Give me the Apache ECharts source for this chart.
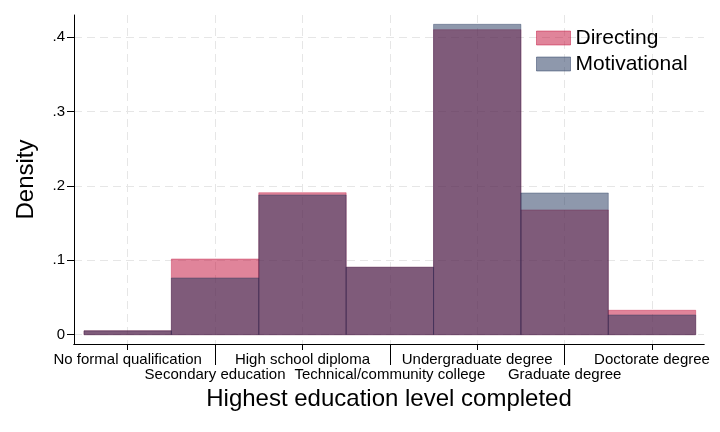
<!DOCTYPE html>
<html>
<head>
<meta charset="utf-8">
<script src="https://cdn.jsdelivr.net/npm/echarts@6/dist/echarts.min.js"></script>
<style>html,body{margin:0;padding:0;background:#fff;}#c{width:720px;height:432px;}</style>
</head>
<body>
<div id="c"></div>
<script>
const categories = ['No formal qualification', 'Secondary education', 'High school diploma', 'Technical/community college', 'Undergraduate degree', 'Graduate degree', 'Doctorate degree'];
const binCenters = [1, 2, 3, 4, 5, 6, 7];
const directing = [0.0052, 0.1017, 0.1908, 0.0906, 0.4098, 0.1676, 0.0328];
const motivational = [0.0052, 0.0762, 0.1877, 0.0906, 0.4170, 0.1904, 0.0265];
const yTicks = [0, 0.1, 0.2, 0.3, 0.4];
const xTicksRow1 = [1, 3, 5, 7];
const xTicksRow2 = [2, 4, 6];

const FONT = 'Liberation Sans, Arial, Helvetica, sans-serif';
const DIR_FILL = 'rgba(193,9,53,0.5)';
const DIR_STROKE = 'rgba(193,9,53,0.35)';
const MOT_FILL = 'rgba(29,49,89,0.5)';
const MOT_STROKE = 'rgba(29,49,89,0.35)';

function renderBin(fill, stroke) {
  return function (params, api) {
    const x = api.value(0), v = api.value(1);
    const p0 = api.coord([x - 0.5, v]);
    const p1 = api.coord([x + 0.5, 0]);
    return {
      type: 'rect',
      shape: { x: p0[0], y: p0[1], width: p1[0] - p0[0], height: p1[1] - p0[1] },
      style: { fill: fill, stroke: stroke, lineWidth: 1 }
    };
  };
}

function catLabel(v) {
  const i = Math.round(v) - 1;
  return categories[i] || '';
}

const gridLine = { show: true, lineStyle: { color: '#e6e6e6', width: 1, type: [8, 5] } };
const axisLineStyle = { show: true, onZero: false, lineStyle: { color: '#000', width: 1 } };
const xMin = 0.3856, xMax = 7.595;

const chart = echarts.init(document.getElementById('c'), null, { renderer: 'canvas' });
chart.setOption({
  animation: false,
  backgroundColor: '#fff',
  textStyle: { fontFamily: FONT },
  grid: { left: 74, right: 16, top: 15, bottom: 88, containLabel: false },
  legend: {
    data: [
      { name: 'Directing', itemStyle: { color: DIR_FILL, borderColor: 'rgba(193,9,53,0.45)', borderWidth: 1 } },
      { name: 'Motivational', itemStyle: { color: MOT_FILL, borderColor: 'rgba(29,49,89,0.45)', borderWidth: 1 } }
    ],
    orient: 'vertical',
    left: 536, top: 27.5, padding: 0,
    icon: 'rect', itemWidth: 34, itemHeight: 14, itemGap: 5, itemTextGap: 14,
    textStyle: { fontFamily: FONT, fontSize: 21, color: '#000' }
  },
  xAxis: [
    {
      type: 'value', position: 'bottom', min: xMin, max: xMax,
      axisLine: axisLineStyle,
      axisTick: { show: true, length: 6, customValues: xTicksRow1, lineStyle: { color: '#000' } },
      axisLabel: { customValues: xTicksRow1, formatter: catLabel, margin: 8, fontSize: 15, lineHeight: 15, color: '#000', fontFamily: FONT, showMinLabel: true, showMaxLabel: true },
      splitLine: gridLine,
      name: 'Highest education level completed', nameLocation: 'middle', nameGap: 43,
      nameTextStyle: { fontSize: 24, color: '#000', fontFamily: FONT }
    },
    {
      type: 'value', position: 'bottom', offset: 0, min: xMin, max: xMax,
      axisLine: axisLineStyle,
      axisTick: { show: true, length: 21, customValues: xTicksRow2, lineStyle: { color: '#000' } },
      axisLabel: { customValues: xTicksRow2, formatter: catLabel, margin: 23, fontSize: 15, lineHeight: 15, color: '#000', fontFamily: FONT },
      splitLine: gridLine
    }
  ],
  yAxis: {
    type: 'value', min: -0.0125, max: 0.4295,
    axisLine: axisLineStyle,
    axisTick: { show: true, length: 7, customValues: yTicks, lineStyle: { color: '#000' } },
    axisLabel: {
      customValues: yTicks, margin: 9, fontSize: 15, color: '#000', fontFamily: FONT,
      formatter: function (v) { return v === 0 ? '0' : String(v).replace(/^0/, ''); }
    },
    splitLine: gridLine,
    name: 'Density', nameLocation: 'middle', nameGap: 36,
    nameTextStyle: { fontSize: 24, color: '#000', fontFamily: FONT }
  },
  series: [
    {
      name: 'Directing', type: 'custom', xAxisIndex: 0, yAxisIndex: 0,
      itemStyle: { color: DIR_FILL, borderColor: DIR_STROKE },
      renderItem: renderBin(DIR_FILL, DIR_STROKE),
      encode: { x: 0, y: 1 },
      data: binCenters.map((c, i) => [c, directing[i]])
    },
    {
      name: 'Motivational', type: 'custom', xAxisIndex: 0, yAxisIndex: 0,
      itemStyle: { color: MOT_FILL, borderColor: MOT_STROKE },
      renderItem: renderBin(MOT_FILL, MOT_STROKE),
      encode: { x: 0, y: 1 },
      data: binCenters.map((c, i) => [c, motivational[i]])
    }
  ]
});
</script>
</body>
</html>
